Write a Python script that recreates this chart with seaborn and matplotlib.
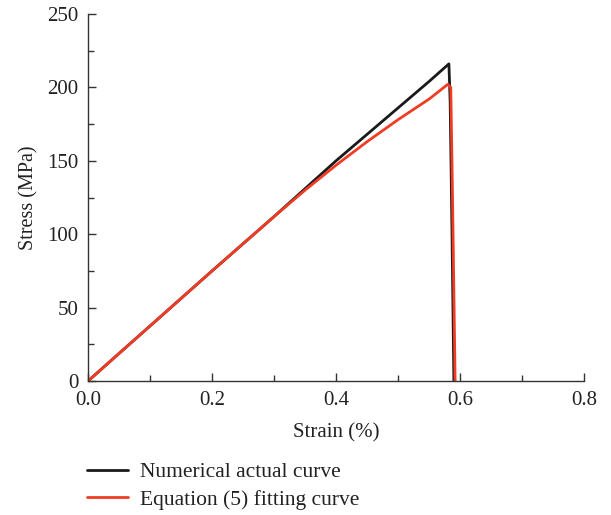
import numpy as np
import pandas as pd
import matplotlib
matplotlib.use("Agg")
import matplotlib.pyplot as plt
import seaborn as sns
from matplotlib.ticker import MultipleLocator

# Data
black_strain = [0.0, 0.05, 0.1, 0.2, 0.3, 0.35, 0.4, 0.45, 0.5, 0.55, 0.582, 0.584, 0.587, 0.590]
black_stress = [0.0, 18.8, 37.5, 75.0, 112.0, 131.0, 150.0, 168.0, 186.0, 204.0, 216.0, 190.0, 100.0, 0.0]
red_strain = [0.0, 0.05, 0.1, 0.2, 0.3, 0.35, 0.4, 0.45, 0.5, 0.55, 0.58, 0.585, 0.588, 0.592]
red_stress = [0.0, 18.8, 37.5, 75.0, 112.0, 130.0, 147.0, 163.0, 178.0, 192.0, 202.0, 200.0, 120.0, 0.0]
labels = ["Numerical actual curve", "Equation (5) fitting curve"]

df = pd.concat([
    pd.DataFrame({"strain": black_strain, "stress": black_stress, "curve": labels[0]}),
    pd.DataFrame({"strain": red_strain, "stress": red_stress, "curve": labels[1]}),
])

sns.set_style("ticks")
plt.rcParams['font.family'] = ['Liberation Serif', 'DejaVu Serif']

fig = plt.figure(figsize=(6.11, 5.15), dpi=100)
ax = fig.add_axes([0.144, 0.260, 0.812, 0.713])

sns.lineplot(data=df, x="strain", y="stress", hue="curve", sort=False,
             palette={labels[0]: "#1a1a1a", labels[1]: "#f03c24"},
             linewidth=2, ax=ax, estimator=None)

ax.set_xlim(0, 0.8)
ax.set_ylim(0, 250)
ax.xaxis.set_major_locator(MultipleLocator(0.2))
ax.xaxis.set_minor_locator(MultipleLocator(0.1))
ax.yaxis.set_major_locator(MultipleLocator(50))
ax.yaxis.set_minor_locator(MultipleLocator(25))
ax.set_xticklabels([f"{v:.1f}" for v in ax.get_xticks()])
ax.tick_params(which="major", direction="in", length=6, width=1, color="#333333",
               labelsize=15, labelcolor="#222222", pad=7)
ax.tick_params(which="minor", direction="in", length=4, width=1, color="#333333")
for s in ["top", "right"]:
    ax.spines[s].set_visible(False)
for s in ["left", "bottom"]:
    ax.spines[s].set_color("#333333")
    ax.spines[s].set_linewidth(1)

ax.set_xlabel("Strain (%)", fontsize=15, color="#222222", labelpad=10)
ax.set_ylabel("Stress (MPa)", fontsize=14.5, color="#222222", labelpad=6)

leg = ax.legend(loc="upper left", bbox_to_anchor=(-0.02, -0.197), frameon=False,
                fontsize=15.5, handlelength=1.9, handletextpad=0.6, labelspacing=0.35,
                title=None, borderaxespad=0)
for t in leg.get_texts():
    t.set_color("#222222")

fig.savefig("out.png", dpi=100)
